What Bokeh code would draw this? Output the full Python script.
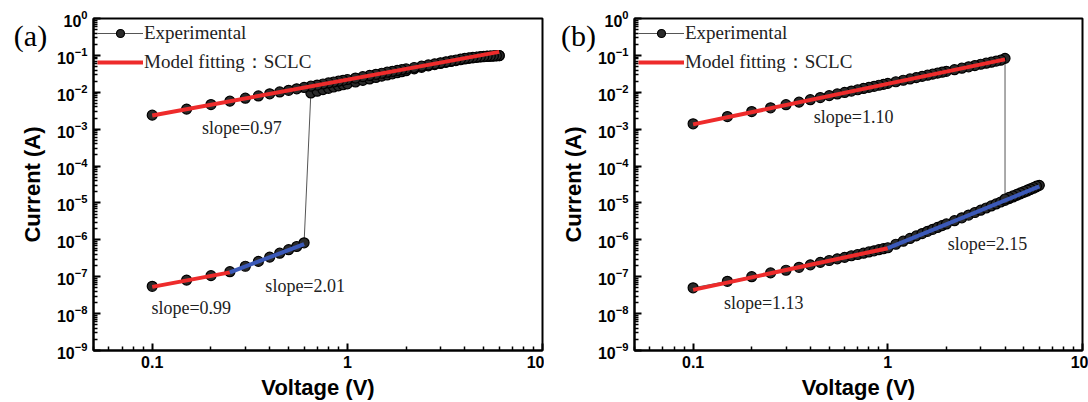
from bokeh.plotting import figure
from bokeh.layouts import row
from bokeh.models import (Range1d, FixedTicker, CustomJSTickFormatter, LogTickFormatter,
                          ColumnDataSource, Label, Legend, LegendItem, GridBox)
from bokeh.core.properties import value
from bokeh.embed import file_html
from bokeh.resources import INLINE

# ---------------------------------------------------------------- data
# voltage grids (V)
V_LOW = [0.1, 0.15, 0.2, 0.25, 0.3, 0.35, 0.4, 0.45, 0.5, 0.55, 0.6]
V_MID = [0.65, 0.7, 0.75, 0.8, 0.85, 0.9, 0.95, 1.0]
V_HIGH = [1.1, 1.2, 1.3, 1.4, 1.5, 1.6, 1.7, 1.8, 1.9, 2.0,
          2.2, 2.4, 2.6, 2.8, 3.0, 3.2, 3.4, 3.6, 3.8, 4.0,
          4.2, 4.4, 4.6, 4.8, 5.0, 5.2, 5.4, 5.6, 5.8, 6.0]

# (a) forward sweep, high-resistance state (on V_LOW)
A_HRS_I = [5.5e-8, 8.1e-8, 1.07e-7, 1.37e-7, 1.92e-7, 2.6e-7, 3.4e-7, 4.35e-7,
           5.4e-7, 6.6e-7, 8.3e-7]
# (a) forward sweep after switching (on V_MID + V_HIGH)
A_SET_I = [9.6e-3, 1.07e-2, 1.18e-2, 1.28e-2, 1.39e-2, 1.49e-2, 1.6e-2, 1.7e-2,
           1.9e-2, 2.1e-2, 2.3e-2, 2.52e-2, 2.74e-2, 2.95e-2, 3.17e-2, 3.4e-2, 3.62e-2, 3.85e-2,
           4.3e-2, 4.75e-2, 5.2e-2, 5.62e-2, 6.05e-2, 6.45e-2, 6.85e-2, 7.25e-2, 7.65e-2, 8.0e-2,
           8.35e-2, 8.6e-2, 8.85e-2, 9.05e-2, 9.2e-2, 9.35e-2, 9.5e-2, 9.6e-2, 9.7e-2, 9.8e-2]
# (a) return sweep, low-resistance state (on V_LOW + V_MID + V_HIGH, listed ascending)
A_RET_I = [2.4e-3, 3.5e-3, 4.65e-3, 5.75e-3, 6.9e-3, 7.95e-3, 9.1e-3, 1.02e-2,
           1.13e-2, 1.24e-2, 1.35e-2,
           1.46e-2, 1.57e-2, 1.68e-2, 1.79e-2, 1.9e-2, 2.0e-2, 2.11e-2, 2.22e-2,
           2.43e-2, 2.65e-2, 2.86e-2, 3.07e-2, 3.28e-2, 3.5e-2, 3.7e-2, 3.9e-2, 4.1e-2, 4.3e-2,
           4.7e-2, 5.1e-2, 5.5e-2, 5.9e-2, 6.3e-2, 6.7e-2, 7.1e-2, 7.5e-2, 7.9e-2, 8.3e-2,
           8.6e-2, 8.85e-2, 9.05e-2, 9.2e-2, 9.35e-2, 9.5e-2, 9.6e-2, 9.7e-2, 9.8e-2, 9.9e-2]

# (b) forward sweep, high-resistance state (on V_LOW + V_MID + V_HIGH)
B_HRS_I = [5.0e-8, 7.5e-8, 1.0e-7, 1.27e-7, 1.5e-7, 1.8e-7, 2.1e-7, 2.45e-7,
           2.75e-7, 3.05e-7, 3.35e-7,
           3.7e-7, 4.0e-7, 4.35e-7, 4.7e-7, 5.05e-7, 5.4e-7, 5.75e-7, 6.1e-7,
           7.6e-7, 9.2e-7, 1.09e-6, 1.28e-6, 1.48e-6, 1.7e-6, 1.93e-6, 2.17e-6, 2.43e-6, 2.7e-6,
           3.3e-6, 3.95e-6, 4.7e-6, 5.5e-6, 6.35e-6, 7.3e-6, 8.3e-6, 9.4e-6, 1.06e-5, 1.18e-5,
           1.31e-5, 1.45e-5, 1.6e-5, 1.76e-5, 1.93e-5, 2.1e-5, 2.3e-5, 2.5e-5, 2.72e-5, 3.0e-5]
# (b) reverse sweep before switching
B_BACK_V = [5.8, 5.6, 5.4, 5.2, 5.0, 4.8, 4.6, 4.4, 4.2, 4.0]
B_BACK_I = [2.85e-5, 2.62e-5, 2.42e-5, 2.22e-5, 2.04e-5, 1.87e-5, 1.7e-5, 1.55e-5, 1.41e-5, 1.28e-5]
# (b) low-resistance state (on V_LOW + V_MID + V_HIGH up to 4.0 V, listed ascending)
B_LRS_I = [1.4e-3, 2.2e-3, 3.0e-3, 3.8e-3, 4.6e-3, 5.4e-3, 6.3e-3, 7.2e-3,
           8.1e-3, 9.0e-3, 9.9e-3,
           1.08e-2, 1.17e-2, 1.27e-2, 1.36e-2, 1.45e-2, 1.55e-2, 1.64e-2, 1.74e-2,
           1.93e-2, 2.12e-2, 2.3e-2, 2.5e-2, 2.7e-2, 2.9e-2, 3.1e-2, 3.3e-2, 3.5e-2, 3.7e-2,
           4.1e-2, 4.5e-2, 4.9e-2, 5.3e-2, 5.75e-2, 6.15e-2, 6.55e-2, 7.0e-2, 7.4e-2, 8.3e-2]

# SCLC fits: start voltage, end voltage, current at start, fitted slope
A_FIT_V0 = [0.1, 0.1, 0.25]
A_FIT_V1 = [6.0, 0.25, 0.6]
A_FIT_I0 = [2.35e-3, 5.3e-8, 1.31e-7]
A_SLOPES = [0.97, 0.99, 2.01]
B_FIT_V0 = [0.1, 0.1, 1.0]
B_FIT_V1 = [4.0, 1.0, 6.0]
B_FIT_I0 = [1.35e-3, 4.4e-8, 5.94e-7]
B_SLOPES = [1.10, 1.13, 2.15]
FIT_COLORS = ["#ee2b2b", "#ee2b2b", "#3b59b8"]
# where each slope annotation sits (V, A)
A_NOTE_V = [0.18, 0.099, 0.38]
A_NOTE_I = [1.1e-3, 1.4e-8, 5.5e-8]
B_NOTE_V = [0.417, 0.144, 2.03]
B_NOTE_I = [2.2e-3, 1.9e-8, 7.9e-7]

X_TICKS = [0.1, 1, 10]
Y_EXPONENTS = [0, -1, -2, -3, -4, -5, -6, -7, -8, -9]

# panel tags, placed in page pixels (x from left, y from bottom)
TAGS = ["(a)", "(b)"]
TAG_X = [30, 578]
TAG_Y = [367, 367]

X_MIN, X_MAX = 0.05, 10
Y_MIN, Y_MAX = 1e-9, 1
PAGE_W, PAGE_H = 1088, 402

Y_TICKS = [10.0 ** e for e in Y_EXPONENTS]
Y_MINOR = [k * 10.0 ** e for e in range(-9, 0) for k in range(2, 10)]
X_MINOR = [k * 10.0 ** e for e in (-2, -1, 0) for k in range(2, 10) if X_MIN <= k * 10.0 ** e <= X_MAX]

SANS = "Liberation Sans"
SERIF = "Liberation Serif"


def make_panel(exp_paths, fit_v0, fit_v1, fit_i0, slopes, note_v, note_i,
               border_left, border_right):
    p = figure(width=PAGE_W // 2, height=PAGE_H, x_axis_type="log", y_axis_type="log",
               x_range=Range1d(X_MIN, X_MAX), y_range=Range1d(Y_MIN, Y_MAX),
               output_backend="svg", toolbar_location=None,
               min_border_left=border_left, min_border_right=border_right,
               min_border_top=18, min_border_bottom=49)
    p.xgrid.visible = False
    p.ygrid.visible = False
    p.outline_line_color = "black"
    p.outline_line_width = 2
    p.background_fill_color = "white"
    p.border_fill_color = "white"

    p.xaxis.ticker = FixedTicker(ticks=X_TICKS, minor_ticks=X_MINOR)
    p.yaxis.ticker = FixedTicker(ticks=Y_TICKS, minor_ticks=Y_MINOR)
    p.xaxis.formatter = CustomJSTickFormatter(code="return tick.toString()")
    p.yaxis.formatter = LogTickFormatter()
    for ax in (p.xaxis[0], p.yaxis[0]):
        ax.axis_line_width = 2
        ax.major_tick_line_width = 2
        ax.minor_tick_line_width = 1.5
        ax.major_tick_in = 7
        ax.major_tick_out = 0
        ax.minor_tick_in = 4
        ax.minor_tick_out = 0
        ax.axis_label_text_font = SANS
        ax.axis_label_text_font_style = "bold"
        ax.axis_label_text_font_size = "22px"
        ax.axis_label_text_color = "black"
        ax.major_label_text_font = SANS
        ax.major_label_text_font_style = "bold"
        ax.major_label_text_font_size = "16px"
        ax.major_label_text_color = "black"
    p.xaxis.axis_label = "Voltage (V)"
    p.yaxis.axis_label = "Current (A)"
    p.xaxis.major_label_standoff = 5
    p.xaxis.axis_label_standoff = 4
    p.yaxis.major_label_standoff = 6
    p.yaxis.axis_label_standoff = 9

    # experimental sweep: thin connecting line plus sphere-like markers
    xs, ys = [], []
    for v, i in exp_paths:
        xs += v
        ys += i
    src = ColumnDataSource(dict(v=xs, i=ys))
    exp_line = p.line("v", "i", source=src, line_color="#555555", line_width=1)
    exp_pts = p.scatter("v", "i", source=src, size=10, marker="circle",
                        fill_color="#2a2a2a", line_color="black", line_width=1.2)

    # model fits
    fit_renderers = []
    for v0, v1, i0, s, c in zip(fit_v0, fit_v1, fit_i0, slopes, FIT_COLORS):
        r = p.line([v0, v1], [i0, i0 * (v1 / v0) ** s], line_color=c, line_width=4)
        fit_renderers.append(r)

    for v, i, s in zip(note_v, note_i, slopes):
        p.add_layout(Label(x=v, y=i, text="slope=%.2f" % s, text_font=SERIF,
                           text_font_size="18px", text_color="#222222",
                           text_align="left", text_baseline="middle"))

    legend = Legend(items=[LegendItem(label="Experimental", renderers=[exp_line, exp_pts]),
                           LegendItem(label="Model fitting：SCLC", renderers=[fit_renderers[0]])],
                    location="top_left")
    legend.margin = 0
    legend.padding = 4
    legend.spacing = 5
    legend.glyph_width = 46
    legend.glyph_height = 20
    legend.label_height = 20
    legend.label_standoff = 1
    legend.label_text_font = SERIF
    legend.label_text_font_size = "19px"
    legend.label_text_color = "#222222"
    legend.background_fill_alpha = 0
    legend.border_line_alpha = 0
    p.add_layout(legend)
    return p


V_ALL = V_LOW + V_MID + V_HIGH

pa = make_panel([(V_LOW, A_HRS_I), (V_MID + V_HIGH, A_SET_I),
                 (V_ALL[::-1], A_RET_I[::-1])],
                A_FIT_V0, A_FIT_V1, A_FIT_I0, A_SLOPES, A_NOTE_V, A_NOTE_I, 93, 2)

V_LRS = V_LOW + V_MID + V_HIGH[:20]
pb = make_panel([(V_ALL, B_HRS_I), (B_BACK_V, B_BACK_I),
                 (V_LRS[::-1], B_LRS_I[::-1])],
                B_FIT_V0, B_FIT_V1, B_FIT_I0, B_SLOPES, B_NOTE_V, B_NOTE_I, 90, 6)

# transparent layer over both panels that carries the panel tags
tags = figure(width=PAGE_W, height=PAGE_H, x_range=Range1d(0, PAGE_W), y_range=Range1d(0, PAGE_H),
              output_backend="svg", toolbar_location=None, min_border=0,
              background_fill_color=None, border_fill_color=None, outline_line_color=None)
tags.axis.visible = False
tags.grid.visible = False
tags.text(x=TAG_X, y=TAG_Y, text=TAGS, text_font=value(SERIF), text_font_size="30px",
          text_color="black", text_align="center", text_baseline="middle")

layout = GridBox(children=[(row(pa, pb), 0, 0), (tags, 0, 0)])
open("out.html", "w").write(file_html(layout, INLINE))
